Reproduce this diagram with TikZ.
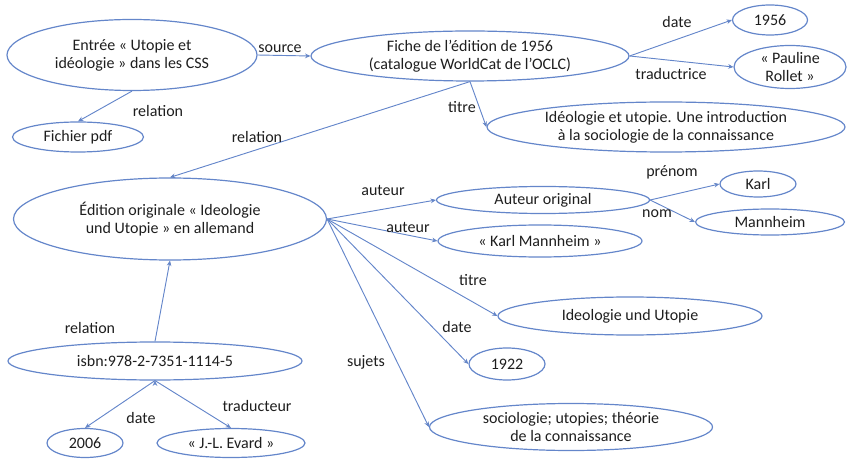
\documentclass[tikz,border=0pt]{standalone}
\usetikzlibrary{arrows.meta,shapes.geometric}
\usepackage{xcolor}
\usepackage{fontspec}
\setmainfont{Carlito}
\definecolor{linkblue}{RGB}{100,134,202}
\definecolor{txtgray}{RGB}{30,30,30}

\begin{document}
\begin{tikzpicture}[x=0.75pt, y=-0.75pt, font=\fontsize{12}{13.5}\selectfont]
 \tikzstyle{obj}=[ellipse, draw=linkblue, line width=0.9pt, text=txtgray,
                  align=center, inner sep=0pt]
 \tikzstyle{lbl}=[text=txtgray, inner sep=1pt]
 \tikzstyle{rel}=[draw=linkblue, line width=0.7pt,
                  -{Stealth[length=4pt, width=3.5pt]}]

\useasboundingbox (0,0) rectangle (848,466);

% ressources
\node[obj, minimum width=187.5pt, minimum height=53.25pt] (entree) at (132,55)
    {Entrée « Utopie et\\idéologie » dans les CSS};
\node[obj, minimum width=238.5pt, minimum height=37.5pt] (fiche) at (470,56)
    {Fiche de l’édition de 1956\\(catalogue WorldCat de l’OCLC)};
\node[obj, minimum width=56.25pt, minimum height=22.5pt] (d1956) at (770,20) {1956};
\node[obj, minimum width=84pt, minimum height=32.25pt] (pauline) at (790,67)
    {« Pauline\\Rollet »};
\node[obj, minimum width=268.5pt, minimum height=37.5pt] (titrefr) at (666,127)
    {Idéologie et utopie. Une introduction\\à la sociologie de la connaissance};
\node[obj, minimum width=98.25pt, minimum height=22.5pt] (pdf) at (78,137) {Fichier pdf};
\node[obj, minimum width=234.75pt, minimum height=61.5pt] (edition) at (170,219)
    {Édition originale « Ideologie\\und Utopie » en allemand};
\node[obj, minimum width=159.75pt, minimum height=20.25pt] (auteur) at (543,200) {Auteur original};
\node[obj, minimum width=57pt, minimum height=19.5pt] (karl) at (758,184) {Karl};
\node[obj, minimum width=111.75pt, minimum height=19.5pt] (mannheim) at (770,222) {Mannheim};
\node[obj, minimum width=153pt, minimum height=24pt] (karlm) at (540,241) {« Karl Mannheim »};
\node[obj, minimum width=198pt, minimum height=28.5pt] (titrede) at (630,316) {Ideologie und Utopie};
\node[obj, minimum width=57pt, minimum height=24pt] (d1922) at (507,364) {1922};
\node[obj, minimum width=212.25pt, minimum height=35.25pt] (sujets) at (571,427)
    {sociologie; utopies; théorie\\de la connaissance};
\node[obj, minimum width=220.5pt, minimum height=28.5pt] (isbn) at (155,361) {isbn:978-2-7351-1114-5};
\node[obj, minimum width=57pt, minimum height=21.75pt] (d2006) at (85,443) {2006};
\node[obj, minimum width=111pt, minimum height=21.75pt] (evard) at (231,443) {« J.-L. Evard »};

% relations
 \path[rel]
    (entree.east) edge (fiche.west)
    (entree.south) edge (pdf.north)
    (fiche.south) edge (edition.north)
    (fiche.east) edge (d1956.west)
    (fiche.east) edge (pauline.west)
    (fiche.south) edge (titrefr.west)
    (edition.east) edge (auteur.west)
    (edition.east) edge (karlm.west)
    (edition.east) edge (titrede.west)
    (edition.east) edge (d1922.west)
    (edition.east) edge (sujets.west)
    (auteur.east) edge (karl.west)
    (auteur.east) edge (mannheim.west)
    (isbn.north) edge (edition.south)
    (isbn.south) edge (d2006.north)
    (isbn.south) edge (evard.north);

% etiquettes
\node[lbl] (lsource) at (280,49) {source};
\node[lbl] (lrelpdf) at (158,111) {relation};
\node[lbl] (lrelfiche) at (257,137) {relation};
\node[lbl] (ldate1) at (677,22) {date};
\node[lbl] (ltrad1) at (671,74) {traductrice};
\node[lbl] (ltitre1) at (462,107) {titre};
\node[lbl] (lauteur1) at (383,191) {auteur};
\node[lbl] (lauteur2) at (408,228) {auteur};
\node[lbl] (ltitre2) at (473,280) {titre};
\node[lbl] (ldate2) at (457,327) {date};
\node[lbl] (lsujets) at (366,362) {sujets};
\node[lbl] (lprenom) at (672,172) {prénom};
\node[lbl] (lnom) at (657,214) {nom};
\node[lbl] (lrelisbn) at (90,328) {relation};
\node[lbl] (ldate3) at (141,418) {date};
\node[lbl] (ltrad2) at (257,406) {traducteur};

\end{tikzpicture}
\end{document}
